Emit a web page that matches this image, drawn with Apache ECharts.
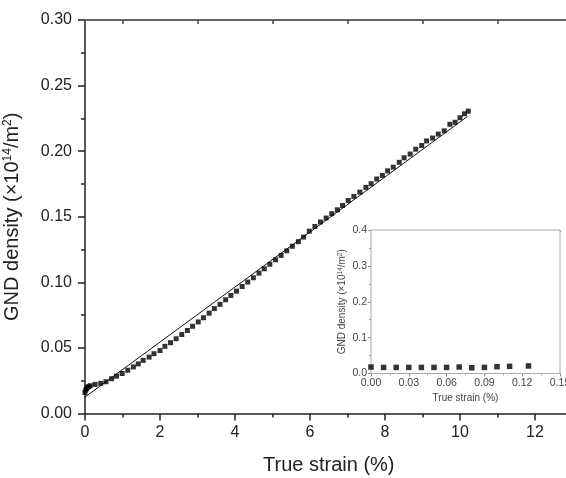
<!DOCTYPE html>
<html>
<head>
<meta charset="utf-8">
<script src="https://cdn.jsdelivr.net/npm/echarts@6/dist/echarts.min.js"></script>
<style>html,body{margin:0;padding:0;background:#fff;}#c{width:566px;height:478px;}</style>
</head>
<body>
<div id="c"></div>
<script>
// Main plot data: true strain (%) vs GND density (x10^14 / m^2)
var strain = [0.00,0.02,0.04,0.07,0.10,0.14,0.27,0.42,0.56,0.71,0.84,0.99,1.14,1.29,1.42,1.55,1.71,1.84,2.00,2.13,2.28,2.43,2.58,2.73,2.87,3.02,3.16,3.31,3.45,3.60,3.75,3.89,4.04,4.19,4.34,4.49,4.64,4.78,4.93,5.08,5.23,5.38,5.53,5.69,5.83,5.98,6.13,6.28,6.43,6.58,6.73,6.87,7.02,7.17,7.33,7.49,7.63,7.78,7.93,8.07,8.22,8.38,8.51,8.67,8.82,8.98,9.11,9.27,9.42,9.58,9.73,9.87,10.00,10.12,10.22];
var density = [0.0160,0.0180,0.0190,0.0200,0.0205,0.0212,0.0222,0.0230,0.0242,0.0265,0.0285,0.0305,0.0330,0.0355,0.0378,0.0405,0.0430,0.0456,0.0480,0.0512,0.0540,0.0570,0.0602,0.0633,0.0665,0.0698,0.0730,0.0765,0.0800,0.0832,0.0867,0.0900,0.0933,0.0968,0.1002,0.1035,0.1070,0.1103,0.1138,0.1172,0.1205,0.1240,0.1275,0.1310,0.1345,0.1390,0.1426,0.1460,0.1490,0.1523,0.1553,0.1586,0.1624,0.1655,0.1688,0.1724,0.1752,0.1788,0.1815,0.1850,0.1878,0.1915,0.1950,0.1978,0.2015,0.2043,0.2078,0.2100,0.2130,0.2155,0.2205,0.2220,0.2255,0.2285,0.2305];
// Linear fit endpoints
var fitX = [0, 10.2];
var fitY = [0.0125, 0.2265];
// Inset data
var insetStrain = [0.00,0.01,0.02,0.03,0.04,0.05,0.06,0.07,0.08,0.09,0.10,0.11,0.125];
var insetDensity = [0.018,0.017,0.017,0.017,0.017,0.017,0.017,0.018,0.016,0.017,0.019,0.020,0.021];
// Tick labels
var mainXTicks = [0,2,4,6,8,10,12];
var mainXMinor = [1,3,5,7,9,11,13];

function pairs(xs, ys){ return xs.map(function(x,i){ return [x, ys[i]]; }); }

var FONT = 'Liberation Sans, Arial, sans-serif';
var DARK = '#222';
var chart = echarts.init(document.getElementById('c'), null, {renderer:'canvas'});
chart.setOption({
  animation: false,
  backgroundColor: '#fff',
  grid: [
    {left: 85, top: 20, right: -6.5, bottom: 64.5, containLabel: false, outerBoundsMode: 'none'},
    {left: 371, top: 230, right: 6, bottom: 104.5, containLabel: false, outerBoundsMode: 'none', show: true, backgroundColor: '#fff', borderColor: '#aaa', borderWidth: 1, z: 5}
  ],
  xAxis: [
    {gridIndex: 0, type: 'value', position: 'bottom', min: 0, max: 13, interval: 1,
     name: 'True strain (%)', nameLocation: 'middle', nameGap: 42,
     nameTextStyle: {fontSize: 20, fontFamily: FONT, color: DARK},
     axisLine: {show: true, lineStyle: {color: DARK, width: 1.5}},
     axisTick: {show: true, customValues: mainXTicks, length: 7, inside: false, lineStyle: {color: DARK, width: 1.5}},
     axisLabel: {show: true, customValues: mainXTicks, margin: 11, fontSize: 16, fontFamily: FONT, color: DARK},
     splitLine: {show: false}},
    {gridIndex: 0, type: 'value', position: 'bottom', min: 0, max: 13, interval: 1,
     axisLine: {show: false},
     axisTick: {show: true, customValues: mainXMinor, length: 4, lineStyle: {color: DARK, width: 1.5}},
     axisLabel: {show: false}, splitLine: {show: false}},
    {gridIndex: 0, type: 'value', position: 'top', min: 0, max: 13, interval: 1,
     axisLine: {show: true, lineStyle: {color: '#666', width: 2}},
     axisTick: {show: true, inside: true, customValues: mainXMinor, length: 4, lineStyle: {color: '#444', width: 1.5}},
     axisLabel: {show: false}, splitLine: {show: false}},
    {gridIndex: 1, type: 'value', position: 'bottom', min: 0, max: 0.15, interval: 0.03,
     name: 'True strain (%)', nameLocation: 'middle', nameGap: 20,
     nameTextStyle: {fontSize: 10, fontFamily: FONT, color: '#444'},
     axisLine: {show: true, lineStyle: {color: '#888', width: 1}},
     axisTick: {show: true, length: 3, lineStyle: {color: '#888'}},
     minorTick: {show: true, splitNumber: 2, length: 2, lineStyle: {color: '#aaa'}},
     axisLabel: {show: true, margin: 4, fontSize: 10.5, fontFamily: FONT, color: '#444', formatter: function(v){ return v.toFixed(2); }},
     splitLine: {show: false}},
    {gridIndex: 1, type: 'value', position: 'top', min: 0, max: 0.15, interval: 0.03,
     axisLine: {show: true, lineStyle: {color: '#aaa', width: 1}},
     axisTick: {show: true, inside: true, length: 2, lineStyle: {color: '#aaa'}},
     axisLabel: {show: false}, splitLine: {show: false}}
  ],
  yAxis: [
    {gridIndex: 0, type: 'value', position: 'left', min: 0, max: 0.3, interval: 0.05,
     name: 'GND density (×10{s|14}/m{s|2})', nameLocation: 'middle', nameGap: 63,
     nameTextStyle: {fontSize: 20, fontFamily: FONT, color: DARK,
       rich: {s: {fontSize: 12, fontFamily: FONT, color: DARK, verticalAlign: 'top'}}},
     axisLine: {show: true, lineStyle: {color: DARK, width: 1.5}},
     axisTick: {show: true, length: 7, lineStyle: {color: DARK, width: 1.5}},
     minorTick: {show: true, splitNumber: 2, length: 4, lineStyle: {color: DARK, width: 1.5}},
     axisLabel: {show: true, margin: 13, fontSize: 16, fontFamily: FONT, color: DARK, formatter: function(v){ return v.toFixed(2); }},
     splitLine: {show: false}},
    {gridIndex: 1, type: 'value', position: 'left', min: 0, max: 0.4, interval: 0.1,
     name: 'GND density (×10{s|14}/m{s|2})', nameLocation: 'middle', nameGap: 24,
     nameTextStyle: {fontSize: 10, fontFamily: FONT, color: '#444',
       rich: {s: {fontSize: 6.5, fontFamily: FONT, color: '#444', verticalAlign: 'top'}}},
     axisLine: {show: true, lineStyle: {color: '#888', width: 1}},
     axisTick: {show: true, length: 3, lineStyle: {color: '#888'}},
     minorTick: {show: true, splitNumber: 2, length: 2, lineStyle: {color: '#aaa'}},
     axisLabel: {show: true, margin: 4, fontSize: 10.5, fontFamily: FONT, color: '#444', formatter: function(v){ return v.toFixed(1); }},
     splitLine: {show: false}}
  ],
  series: [
    {type: 'line', xAxisIndex: 0, yAxisIndex: 0, data: pairs(fitX, fitY), showSymbol: false, symbol: 'none',
     lineStyle: {color: '#111', width: 1}, z: 3},
    {type: 'scatter', xAxisIndex: 0, yAxisIndex: 0, data: pairs(strain, density), symbol: 'rect', symbolSize: 5,
     itemStyle: {color: '#000'}, z: 4},
    {type: 'scatter', xAxisIndex: 3, yAxisIndex: 1, data: pairs(insetStrain, insetDensity), symbol: 'rect', symbolSize: 5.5,
     itemStyle: {color: '#000'}, z: 6}
  ]
});
</script>
</body>
</html>
